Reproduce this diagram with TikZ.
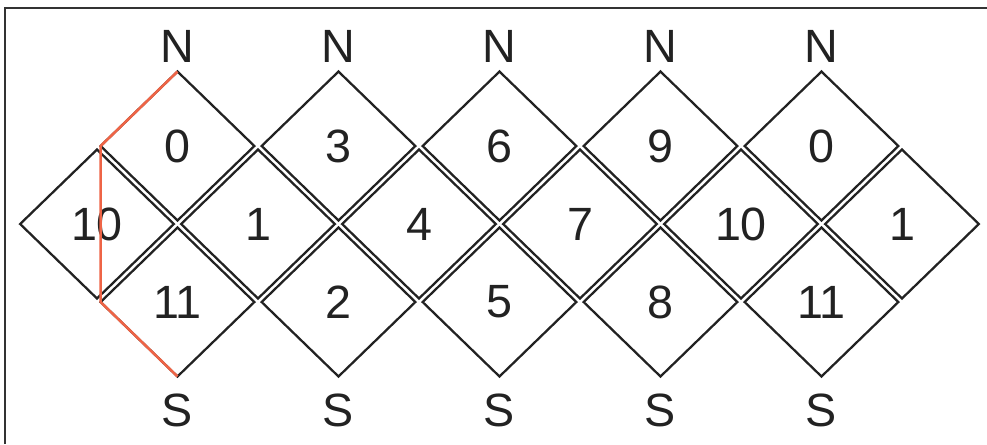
\documentclass[tikz,border=0pt]{standalone}
\usepackage{fontspec}
\setmainfont{Liberation Sans}
\usetikzlibrary{positioning,shapes.geometric}
\definecolor{cutred}{HTML}{EE6446}
\definecolor{framec}{HTML}{333333}
\definecolor{inkc}{HTML}{222222}

\begin{document}
\begin{tikzpicture}[x=1cm,y=.969cm,
  cell/.style={diamond,draw=inkc,text=inkc,line width=.8pt,minimum width=1.91cm,minimum height=1.85cm,inner sep=0pt,outer sep=0pt,font=\fontsize{16.5}{18}\selectfont},
  pole/.style={inner sep=0pt,text=inkc,font=\fontsize{16.5}{18}\selectfont}]
\useasboundingbox (-.205,-2.821) rectangle (12.056,2.872);
\draw[framec,line width=1pt] (-.143,-2.821)--(-.143,2.769)--(12.056,2.769);
% upper row
\node[cell] (t1) at (2,1){0};\node[cell] (t2) at (4,1){3};\node[cell] (t3) at (6,1){6};
\node[cell] (t4) at (8,1){9};\node[cell] (t5) at (10,1){0};
% middle row
\node[cell] (m1) at (1,0){10};\node[cell] (m2) at (3,0){1};\node[cell] (m3) at (5,0){4};
\node[cell] (m4) at (7,0){7};\node[cell] (m5) at (9,0){10};\node[cell] (m6) at (11,0){1};
% lower row
\node[cell] (b1) at (2,-1){11};\node[cell] (b2) at (4,-1){2};\node[cell] (b3) at (6,-1){5};
\node[cell] (b4) at (8,-1){8};\node[cell] (b5) at (10,-1){11};
% poles
\node[pole,above=3pt of t1.north]{N};\node[pole,above=3pt of t2.north]{N};\node[pole,above=3pt of t3.north]{N};
\node[pole,above=3pt of t4.north]{N};\node[pole,above=3pt of t5.north]{N};
\node[pole,below=6pt of b1.south]{S};\node[pole,below=6pt of b2.south]{S};\node[pole,below=6pt of b3.south]{S};
\node[pole,below=6pt of b4.south]{S};\node[pole,below=6pt of b5.south]{S};
% cut
\draw[cutred,line width=.9pt,line join=round] (t1.north)--(t1.west)--(b1.west)--(b1.south);
\end{tikzpicture}
\end{document}
